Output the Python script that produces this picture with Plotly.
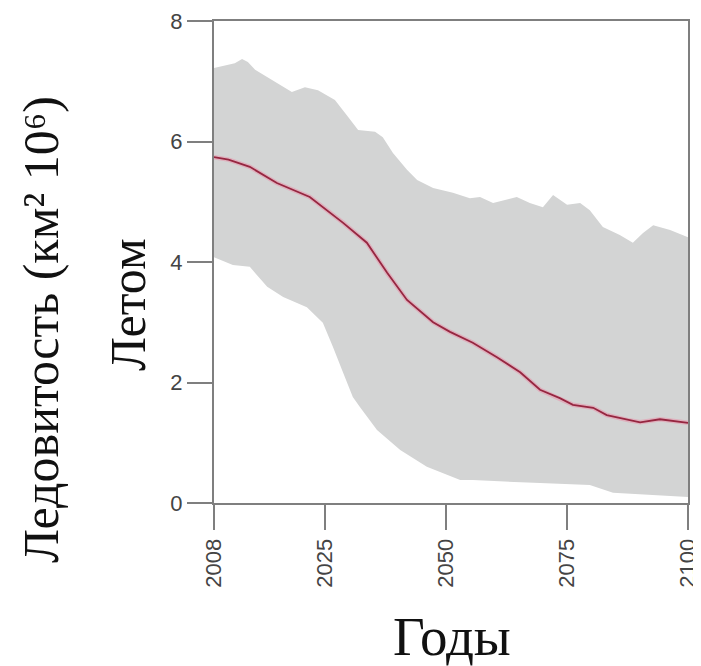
import plotly.graph_objects as go

# ---- data ----
median_years = [2002, 2005, 2009.4, 2015, 2021.8, 2028.7, 2033.6, 2037.8, 2041.9, 2047.3,
                2050.8, 2055.5, 2060.5, 2065.3, 2069.4, 2073.5, 2076.2, 2080.4, 2083.2,
                2087.4, 2090.1, 2094.2, 2100]
median_vals = [5.74, 5.70, 5.58, 5.31, 5.08, 4.65, 4.32, 3.82, 3.37, 3.00,
               2.84, 2.66, 2.42, 2.17, 1.88, 1.74, 1.63, 1.58, 1.46,
               1.38, 1.34, 1.39, 1.33]

upper_years = [2002, 2006.3, 2007.8, 2009.0, 2010.5, 2014.0, 2018.1, 2020.8, 2023.5, 2027.0,
               2029.7, 2031.8, 2035.3, 2036.9, 2039.0, 2041.9, 2044.0, 2047.3, 2051.4, 2054.9,
               2057.0, 2059.7, 2064.6, 2067.3, 2070.0, 2072.1, 2075.0, 2077.7, 2079.7, 2082.4,
               2085.9, 2088.6, 2090.7, 2092.8, 2096.3, 2100]
upper_vals = [7.22, 7.30, 7.37, 7.32, 7.19, 7.02, 6.82, 6.90, 6.85, 6.69,
              6.41, 6.19, 6.16, 6.07, 5.81, 5.53, 5.36, 5.23, 5.15, 5.06,
              5.08, 4.98, 5.08, 4.98, 4.91, 5.11, 4.95, 4.98, 4.86, 4.58,
              4.45, 4.32, 4.48, 4.61, 4.53, 4.41]

lower_years = [2002, 2005.9, 2009.4, 2013.0, 2016.3, 2021.2, 2024.5, 2026.6, 2028.7, 2030.7,
               2032.2, 2035.7, 2040.5, 2046.0, 2052.9, 2055.5, 2069.4, 2079.7, 2084.5, 2100]
lower_vals = [4.08, 3.95, 3.92, 3.59, 3.42, 3.25, 2.99, 2.59, 2.16, 1.76,
              1.59, 1.21, 0.88, 0.60, 0.38, 0.38, 0.33, 0.30, 0.17, 0.10]

x_tick_vals = [2002, 2025, 2050, 2075, 2100]
x_tick_text = ["2008", "2025", "2050", "2075", "2100"]
y_tick_vals = [0, 2, 4, 6, 8]

y_title = "Ледовитость (км² 10⁶)"
y_subtitle = "Летом"
x_title = "Годы"

# ---- figure ----
band_x = upper_years + lower_years[::-1]
band_y = upper_vals + lower_vals[::-1]

fig = go.Figure()
fig.add_trace(go.Scatter(x=band_x, y=band_y, fill="toself", mode="none",
                         fillcolor="#d3d4d4", hoverinfo="skip", showlegend=False))
fig.add_trace(go.Scatter(x=median_years, y=median_vals, mode="lines",
                         line=dict(color="rgba(235,140,165,0.5)", width=4.5),
                         hoverinfo="skip", showlegend=False))
fig.add_trace(go.Scatter(x=median_years, y=median_vals, mode="lines",
                         line=dict(color="#962640", width=1.8),
                         showlegend=False))

axis_color = "#7f7f7f"
tick_font = dict(family="Liberation Sans, Arial, sans-serif", size=22, color="#444444")
serif = "Liberation Serif, Times New Roman, serif"

# the page body has an 8px margin, so the figure is offset by (8, 8)
fig.update_layout(
    width=701, height=666,
    margin=dict(l=206, r=21, t=13, b=171),
    paper_bgcolor="white", plot_bgcolor="white",
    xaxis=dict(range=[2002, 2100], tickmode="array", tickvals=x_tick_vals,
               ticktext=x_tick_text, tickangle=-90, ticks="outside", ticklen=25,
               tickwidth=2, tickcolor=axis_color, showline=True, linecolor=axis_color,
               linewidth=2, mirror=True, showgrid=False, zeroline=False,
               tickfont=tick_font, automargin=False),
    yaxis=dict(range=[0, 8], tickmode="array", tickvals=y_tick_vals,
               ticks="outside", ticklen=25, tickwidth=2, tickcolor=axis_color,
               showline=True, linecolor=axis_color, linewidth=2, mirror=True,
               showgrid=False, zeroline=False, tickfont=tick_font, automargin=False),
    annotations=[
        dict(text=y_title, xref="paper", yref="paper", x=-0.365, y=0.361,
             textangle=-90, showarrow=False, xanchor="center", yanchor="middle",
             font=dict(family=serif, size=50, color="#111111")),
        dict(text=y_subtitle, xref="paper", yref="paper", x=-0.181, y=0.411,
             textangle=-90, showarrow=False, xanchor="center", yanchor="middle",
             font=dict(family=serif, size=50, color="#111111")),
        dict(text=x_title, xref="paper", yref="paper", x=0.502, y=-0.276,
             showarrow=False, xanchor="center", yanchor="middle",
             font=dict(family=serif, size=55, color="#111111")),
    ],
)

fig.write_html("out.html")
